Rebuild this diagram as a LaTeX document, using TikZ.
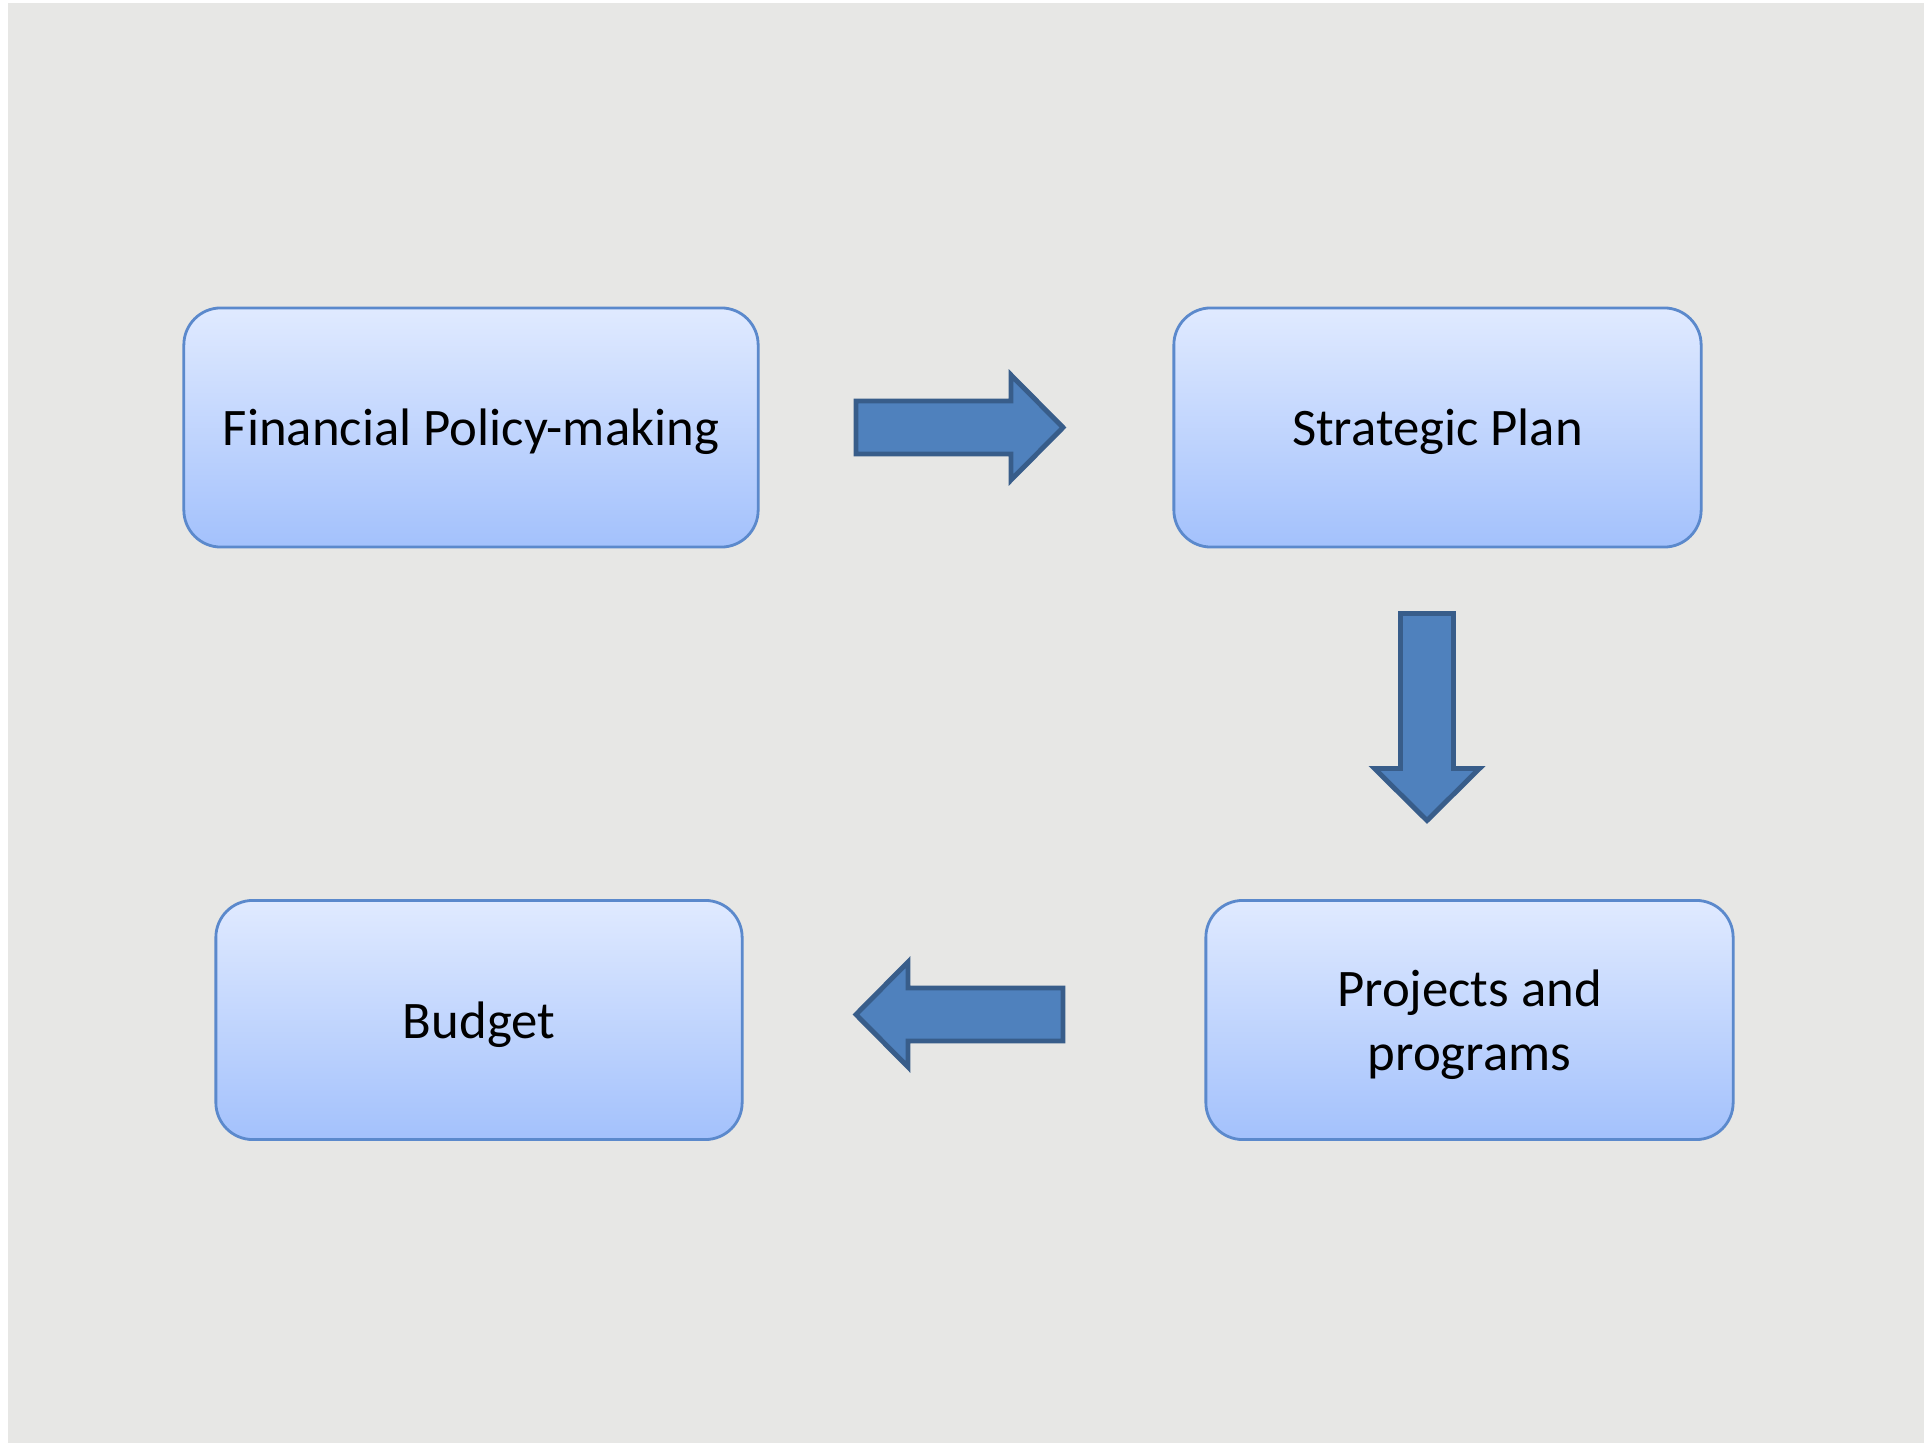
\documentclass[tikz,border=0pt]{standalone}
\usepackage{fontspec}
\setmainfont{Carlito}

\definecolor{bggray}{HTML}{E7E7E5}
\definecolor{boxtop}{HTML}{E0EAFF}
\definecolor{boxbottom}{HTML}{A3C1FC}
\definecolor{boxline}{HTML}{5B89CC}
\definecolor{arrowfill}{HTML}{4F81BD}
\definecolor{arrowline}{HTML}{385D8A}

\begin{document}
\begin{tikzpicture}[x=0.01cm, y=-0.01cm,
    stage/.style={draw=boxline, line width=0.8pt, rounded corners=0.37cm,
        top color=boxtop, bottom color=boxbottom, minimum height=2.39cm,
        text depth=0pt, align=center, font=\fontsize{15}{18.2}\selectfont},
    % fat arrow pointing right, centred on where the pic is placed
    blockarrow/.pic={
        \draw[draw=arrowline, fill=arrowfill, line width=1.4pt, line join=miter]
            (-103.5,-26.5) -- (51.5,-26.5) -- (51.5,-52.5) -- (103.5,0)
            -- (51.5,52.5) -- (51.5,26.5) -- (-103.5,26.5) -- cycle;
    }]
    \useasboundingbox (0,0) rectangle (1924,1443);
    \fill[bggray] (8,3) rectangle (1924,1443);

    % Boxes of the cycle
    \node[stage, minimum width=5.74cm] (policy) at (471,427.5) {Financial Policy-making};
    \node[stage, minimum width=5.27cm] (plan) at (1437.5,427.5) {Strategic Plan};
    \node[stage, minimum width=5.27cm] (projects) at (1469.5,1020) {Projects and\\programs};
    \node[stage, minimum width=5.26cm] (budget) at (479,1020) {Budget};

    % Block arrows between the boxes
    \coordinate (policy-plan) at (959.5,427.5);
    \coordinate (plan-projects) at (1427,717);
    \coordinate (projects-budget) at (959.5,1014.5);
    \pic at (policy-plan) {blockarrow};
    \pic[rotate=-90] at (plan-projects) {blockarrow};
    \pic[rotate=180] at (projects-budget) {blockarrow};
\end{tikzpicture}
\end{document}
